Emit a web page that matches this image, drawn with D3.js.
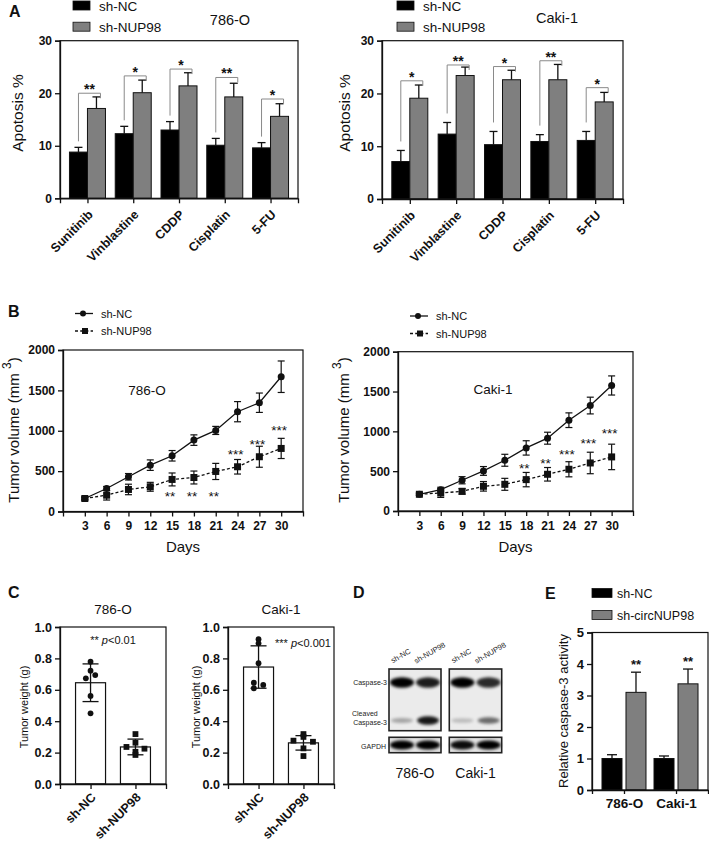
<!DOCTYPE html>
<html><head><meta charset="utf-8">
<script src="https://cdn.jsdelivr.net/npm/d3@7"></script>
<style>body{margin:0;background:#fff}</style>
</head><body><svg id="fig" width="709" height="841"></svg>
<script>
// ---------------- DATA ----------------
// Panel A: apoptosis %
const drugs = ["Sunitinib","Vinblastine","CDDP","Cisplatin","5-FU"];
const seriesNames = ["sh-NC","sh-NUP98"];
const apoTicks = [0,10,20,30];
const apo786NC   = [8.8,12.3,13.0,10.1,9.6];
const apo786NCsd = [0.9,1.4,1.6,1.3,1.0];
const apo786KD   = [17.1,20.1,21.4,19.3,15.6];
const apo786KDsd = [2.2,2.4,2.5,2.6,2.4];
const apo786Sig  = ["**","*","*","**","*"];
const apo786Bracket = [20.0,23.3,24.6,23.0,18.9];
const apoCakiNC   = [7.1,12.3,10.3,10.9,11.1];
const apoCakiNCsd = [2.1,2.2,2.5,1.3,1.7];
const apoCakiKD   = [19.1,23.4,22.6,22.6,18.4];
const apoCakiKDsd = [2.5,1.6,1.8,2.9,1.8];
const apoCakiSig  = ["*","**","*","**","*"];
const apoCakiBracket = [22.4,25.4,25.1,26.2,21.1];

// Panel B: tumor volume
const days = [3,6,9,12,15,18,21,24,27,30];
const volTicks = [0,500,1000,1500,2000];
const vol786NC   = [161,285,430,574,690,884,1004,1236,1347,1669];
const vol786NCsd = [18,25,40,65,65,65,50,125,120,195];
const vol786KD   = [161,202,273,306,397,421,496,554,678,781];
const vol786KDsd = [18,60,65,55,80,80,100,90,130,125];
const vol786Sig  = ["","","","","**","**","**","***","***","***"];
const vol786SigLevel = [0,0,0,0,235,235,235,752,876,1041];
const volCakiNC   = [210,268,386,503,637,792,914,1140,1324,1576];
const volCakiNCsd = [15,30,45,55,75,90,75,92,105,120];
const volCakiKD   = [210,226,247,310,335,394,461,524,603,679];
const volCakiKDsd = [15,55,35,60,75,90,85,95,135,160];
const volCakiSig  = ["","","","","","**","**","***","***","***"];
const volCakiSigLevel = [0,0,0,0,0,583,637,754,897,1014];

// Panel C: tumor weight
const wtTicks = [0,0.2,0.4,0.6,0.8,1.0];
const wt786NC = [0.779,0.722,0.694,0.673,0.561,0.450];
const wt786KD = [0.318,0.263,0.236,0.225,0.205,0.185];
const wt786Mean = [0.645,0.236];
const wt786SD = [0.12,0.05];
const wtCakiNC = [0.922,0.896,0.769,0.645,0.631,0.610];
const wtCakiKD = [0.318,0.300,0.276,0.269,0.227,0.178];
const wtCakiMean = [0.745,0.262];
const wtCakiSD = [0.135,0.046];

// Panel D: western blot band intensities (relative)
const blotLines = ["786-O","Caki-1"];
const blotLanes = ["sh-NC","sh-NUP98"];
const casp3Band   = [[1.0,0.88],[1.0,0.82]];
const cleavedBand = [[0.30,0.90],[0.20,0.55]];
const gapdhBand   = [[1.0,1.0],[0.95,1.0]];

// Panel E: caspase-3 activity
const casGroups = ["786-O","Caki-1"];
const casNames = ["sh-NC","sh-circNUP98"];
const casTicks = [0,1,2,3,4,5];
const casNC = [1.0,1.0];
const casNCsd = [0.12,0.08];
const casKD = [3.1,3.37];
const casKDsd = [0.64,0.47];
const casSig = ["**","**"];

// ---------------- LAYOUT / STYLE ----------------
const FF = "'Liberation Sans', Arial, Helvetica, sans-serif";
const INK = "#111";
const GRAY = "#7f7f7f";
const jit786NC = [0,0,4.7,-4.7,0,0];
const jit786KD = [0,0,-9,9,0,0];
const jitCakiNC = [0,0,0,-4.7,4.7,-4.7];
const jitCakiKD = [0,0,-10,9.5,0,0];

const svg = d3.select("#fig");
svg.append("rect").attr("width",709).attr("height",841).attr("fill","#fff");
const defs = svg.append("defs");
defs.append("filter").attr("id","blur").attr("x","-50%").attr("y","-80%").attr("width","200%").attr("height","260%")
  .append("feGaussianBlur").attr("stdDeviation",1.6);

function txt(x,y,s,fs,o={}){
  const t = svg.append("text").attr("x",x).attr("y",y).attr("font-family",FF)
    .attr("font-size",fs).attr("fill",o.fill||INK).text(s);
  if(o.bold) t.attr("font-weight","bold");
  if(o.anchor) t.attr("text-anchor",o.anchor);
  return t;
}
function vtxt(x,y,s,fs){
  return svg.append("text").attr("transform",`translate(${x},${y}) rotate(-90)`)
    .attr("text-anchor","middle").attr("font-family",FF).attr("font-size",fs).attr("fill",INK).text(s);
}
function styleAxis(g,fs){
  g.attr("font-family",FF).attr("font-size",fs).attr("font-weight","bold");
  g.selectAll("path.domain").attr("stroke",INK).attr("stroke-width",1.3);
  g.selectAll(".tick line").attr("stroke",INK).attr("stroke-width",1.3);
  g.selectAll(".tick text").attr("fill",INK);
}
function box(x0,y0,x1,y1){
  svg.append("rect").attr("x",x0).attr("y",y0).attr("width",x1-x0).attr("height",y1-y0)
    .attr("fill","none").attr("stroke",INK).attr("stroke-width",1.2);
}
function vline(g,x,y1,y2,w=1.3,c=INK){ g.append("line").attr("x1",x).attr("x2",x).attr("y1",y1).attr("y2",y2).attr("stroke",c).attr("stroke-width",w); }
function hline(g,x1,x2,y,w=1.3,c=INK){ g.append("line").attr("x1",x1).attr("x2",x2).attr("y1",y).attr("y2",y).attr("stroke",c).attr("stroke-width",w); }

// ---------------- PANEL LABELS ----------------
txt(9,17,"A",16,{bold:true});
txt(8,317,"B",16,{bold:true});
txt(8,598,"C",16,{bold:true});
txt(353,598,"D",16,{bold:true});
txt(545,599,"E",16,{bold:true});

// ---------------- PANEL A ----------------
function drawApo(c){
  const y = d3.scaleLinear().domain([0,30]).range([c.yBot,c.yTop]);
  const x = d3.scalePoint().domain(drugs).range([c.x0,c.x1]).padding(0.6);
  const bw = 18;
  const g = svg.append("g");
  box(c.x0,c.yTop,c.x1,c.yBot);
  drugs.forEach((d,i)=>{
    const cx = x(d);
    const items = [[cx-bw, c.nc[i], c.ncSd[i], "#000"],[cx, c.kd[i], c.kdSd[i], GRAY]];
    items.forEach(([bx,v,e,col])=>{
      const m = bx+bw/2;
      vline(g,m,y(v),y(v+e));
      hline(g,m-4,m+4,y(v+e));
      g.append("rect").attr("x",bx).attr("y",y(v)).attr("width",bw).attr("height",y(0)-y(v))
        .attr("fill",col).attr("stroke",INK).attr("stroke-width",1);
    });
    const lx = cx-bw/2, rx = cx+bw/2+4, by = y(c.br[i]);
    g.append("path").attr("d",`M${lx},${y(c.nc[i]+c.ncSd[i])-c.legGap}V${by}H${rx}V${by+5}`)
      .attr("fill","none").attr("stroke","#8a8a8a").attr("stroke-width",1);
    g.append("text").attr("x",(lx+rx)/2).attr("y",by+1).attr("text-anchor","middle")
      .attr("font-family",FF).attr("font-size",14).attr("font-weight","bold").attr("fill",INK).text(c.sig[i]);
  });
  const ya = svg.append("g").attr("transform",`translate(${c.x0},0)`)
    .call(d3.axisLeft(y).tickValues(apoTicks).tickSize(5).tickPadding(3).tickFormat(d3.format("d")));
  styleAxis(ya,12);
  const xa = svg.append("g").attr("transform",`translate(0,${c.yBot})`)
    .call(d3.axisBottom(x).tickSize(5).tickFormat(""));
  styleAxis(xa,12);
  drugs.forEach(d=>{
    svg.append("text").attr("transform",`translate(${x(d)+3},${c.yBot+14}) rotate(-45)`)
      .attr("text-anchor","end").attr("dy","0.35em").attr("font-family",FF).attr("font-size",12.5)
      .attr("font-weight","bold").attr("fill",INK).text(d);
  });
  vtxt(c.ylabX,113,"Apotosis %",15.5);
  // legend
  [["#000",c.legY[0]],[GRAY,c.legY[1]]].forEach(([col,ly],k)=>{
    svg.append("rect").attr("x",c.legX).attr("y",ly-4.5).attr("width",17).attr("height",9)
      .attr("fill",col).attr("stroke",INK).attr("stroke-width",0.8);
    txt(c.legX+26,ly+5,seriesNames[k],13.5);
  });
  txt(c.titleX,c.titleY,c.title,14.5,{anchor:"middle"});
}
drawApo({x0:60,x1:298,yTop:40.7,yBot:198.3,nc:apo786NC,ncSd:apo786NCsd,kd:apo786KD,kdSd:apo786KDsd,
  sig:apo786Sig,br:apo786Bracket,legGap:6,ylabX:23,legX:73,legY:[5.5,26.7],title:"786-O",titleX:230,titleY:25});
drawApo({x0:382,x1:623,yTop:40.7,yBot:199,nc:apoCakiNC,ncSd:apoCakiNCsd,kd:apoCakiKD,kdSd:apoCakiKDsd,
  sig:apoCakiSig,br:apoCakiBracket,legGap:9,ylabX:350,legX:397,legY:[5.5,26.7],title:"Caki-1",titleX:557,titleY:23});

// ---------------- PANEL B ----------------
function drawVol(c){
  const x = d3.scaleLinear().domain([0,33]).range([c.x0,c.x1]);
  const y = d3.scaleLinear().domain([0,2000]).range([c.yBot,c.yTop]);
  const g = svg.append("g");
  box(c.x0,c.yTop,c.x1,c.yBot);
  const line = d3.line().x((d,i)=>x(days[i])).y(d=>y(d));
  g.append("path").attr("d",line(c.kd)).attr("fill","none").attr("stroke",INK).attr("stroke-width",1.3).attr("stroke-dasharray","3,2.2");
  g.append("path").attr("d",line(c.nc)).attr("fill","none").attr("stroke",INK).attr("stroke-width",1.3);
  [[c.nc,c.ncSd],[c.kd,c.kdSd]].forEach(([v,e])=>{
    v.forEach((val,i)=>{
      const px = x(days[i]);
      vline(g,px,y(val-e[i]),y(val+e[i]),1.2);
      hline(g,px-3.5,px+3.5,y(val-e[i]),1.2);
      hline(g,px-3.5,px+3.5,y(val+e[i]),1.2);
    });
  });
  c.kd.forEach((val,i)=>g.append("rect").attr("x",x(days[i])-3.5).attr("y",y(val)-3.5).attr("width",7).attr("height",7).attr("fill",INK));
  c.nc.forEach((val,i)=>g.append("circle").attr("cx",x(days[i])).attr("cy",y(val)).attr("r",3.5).attr("fill",INK));
  c.sig.forEach((s,i)=>{ if(!s) return;
    g.append("text").attr("x",x(days[i])-2).attr("y",y(c.sigLv[i])+8).attr("text-anchor","middle")
      .attr("font-family",FF).attr("font-size",13.5).attr("fill",INK).text(s);
  });
  const ya = svg.append("g").attr("transform",`translate(${c.x0},0)`)
    .call(d3.axisLeft(y).tickValues(volTicks).tickSize(5).tickPadding(3).tickFormat(d3.format("d")));
  styleAxis(ya,12);
  const xa = svg.append("g").attr("transform",`translate(0,${c.yBot})`)
    .call(d3.axisBottom(x).tickValues(days).tickSize(5).tickPadding(5).tickFormat(d3.format("d")));
  styleAxis(xa,12);
  txt((x(3)+x(30))/2,552,"Days",15,{anchor:"middle"});
  // y label with superscript
  const yl = svg.append("text").attr("transform",`translate(${c.ylabX},430) rotate(-90)`)
    .attr("text-anchor","middle").attr("font-family",FF).attr("font-size",15).attr("fill",INK);
  yl.append("tspan").text("Tumor volume (mm ");
  yl.append("tspan").attr("dy",-8).attr("font-size",12).text("3");
  yl.append("tspan").attr("dy",8).text(")");
  txt(c.labX,c.labY,c.title,13.5,{anchor:"middle"});
  // legend
  const lg = svg.append("g");
  hline(lg,c.legX,c.legX+18,c.legY[0],1.3);
  lg.append("circle").attr("cx",c.legX+8).attr("cy",c.legY[0]).attr("r",3).attr("fill",INK);
  lg.append("line").attr("x1",c.legX).attr("x2",c.legX+18).attr("y1",c.legY[1]).attr("y2",c.legY[1])
    .attr("stroke",INK).attr("stroke-width",1.3).attr("stroke-dasharray","3,2.2");
  lg.append("rect").attr("x",c.legX+7).attr("y",c.legY[1]-3).attr("width",6).attr("height",6).attr("fill",INK);
  txt(c.legX+26,c.legY[0]+4,seriesNames[0],11);
  txt(c.legX+26,c.legY[1]+4,seriesNames[1],11);
}
drawVol({x0:63,x1:303,yTop:350,yBot:511.5,nc:vol786NC,ncSd:vol786NCsd,kd:vol786KD,kdSd:vol786KDsd,
  sig:vol786Sig,sigLv:vol786SigLevel,ylabX:19,title:"786-O",labX:147,labY:395,legX:75,legY:[313.5,331]});
drawVol({x0:398,x1:633,yTop:351.7,yBot:511,nc:volCakiNC,ncSd:volCakiNCsd,kd:volCakiKD,kdSd:volCakiKDsd,
  sig:volCakiSig,sigLv:volCakiSigLevel,ylabX:349,title:"Caki-1",labX:493,labY:394,legX:410,legY:[316,333.5]});

// ---------------- PANEL C ----------------
function drawWt(c){
  const y = d3.scaleLinear().domain([0,1]).range([784,627]);
  const x = d3.scalePoint().domain(seriesNames).range([c.x0,c.x1]).padding(0.68);
  const g = svg.append("g");
  box(c.x0,627,c.x1,784);
  const bw = 30;
  seriesNames.forEach((s,k)=>{
    const cx = x(s);
    g.append("rect").attr("x",cx-bw/2).attr("y",y(c.mean[k])).attr("width",bw).attr("height",y(0)-y(c.mean[k]))
      .attr("fill","#fff").attr("stroke",INK).attr("stroke-width",1.2);
  });
  c.nc.forEach((v,i)=>g.append("circle").attr("cx",x(seriesNames[0])+c.jn[i]).attr("cy",y(v)).attr("r",2.9).attr("fill",INK));
  c.kd.forEach((v,i)=>g.append("rect").attr("x",x(seriesNames[1])+c.jk[i]-2.9).attr("y",y(v)-2.9).attr("width",5.8).attr("height",5.8).attr("fill",INK));
  seriesNames.forEach((s,k)=>{
    const cx = x(s), m=c.mean[k], e=c.sd[k];
    vline(g,cx,y(m-e),y(m+e),1.3);
    hline(g,cx-8,cx+8,y(m-e),1.3);
    hline(g,cx-8,cx+8,y(m+e),1.3);
  });
  const ya = svg.append("g").attr("transform",`translate(${c.x0},0)`)
    .call(d3.axisLeft(y).tickValues(wtTicks).tickSize(5).tickPadding(3).tickFormat(d3.format(".1f")));
  styleAxis(ya,12.5);
  const xa = svg.append("g").attr("transform",`translate(0,784)`)
    .call(d3.axisBottom(x).tickSize(5).tickFormat(""));
  styleAxis(xa,12);
  seriesNames.forEach(s=>{
    svg.append("text").attr("transform",`translate(${x(s)+3},${795}) rotate(-45)`)
      .attr("text-anchor","end").attr("dy","0.35em").attr("font-family",FF).attr("font-size",12.5)
      .attr("font-weight","bold").attr("fill",INK).text(s);
  });
  vtxt(c.ylabX,707,"Tumor weight (g)",11);
  txt((c.x0+c.x1)/2,614,c.title,13.5,{anchor:"middle"});
  const pt = svg.append("text").attr("x",c.pX).attr("y",c.pY).attr("font-family",FF).attr("font-size",11)
    .attr("fill",INK).attr("text-anchor",c.pAnchor);
  pt.append("tspan").text(c.stars+" ");
  pt.append("tspan").attr("font-style","italic").text("p");
  pt.append("tspan").text(c.pTxt);
}
drawWt({x0:60,x1:166,nc:wt786NC,kd:wt786KD,mean:wt786Mean,sd:wt786SD,jn:jit786NC,jk:jit786KD,
  ylabX:28,title:"786-O",stars:"**",pTxt:"<0.01",pX:113,pY:644,pAnchor:"middle"});
drawWt({x0:228,x1:334,nc:wtCakiNC,kd:wtCakiKD,mean:wtCakiMean,sd:wtCakiSD,jn:jitCakiNC,jk:jitCakiKD,
  ylabX:200,title:"Caki-1",stars:"***",pTxt:"<0.001",pX:275,pY:647,pAnchor:"start"});

// ---------------- PANEL D (western blot) ----------------
(function(){
  const g = svg.append("g");
  const boxes = [[389,441],[449.3,501.7]];
  const laneX = d3.scalePoint().domain(blotLanes).range([0,1]).padding(0.5);
  blotLines.forEach((ln,li)=>{
    const [bx0,bx1] = boxes[li];
    const w = bx1-bx0;
    const lx = s => bx0 + laneX(s)*w;
    g.append("rect").attr("x",bx0).attr("y",669).attr("width",w).attr("height",61.7).attr("fill","#ebebeb");
    g.append("rect").attr("x",bx0).attr("y",737.3).attr("width",w).attr("height",15.4).attr("fill","#e2e2e2");
    blotLanes.forEach((s,k)=>{
      const cx = lx(s);
      g.append("ellipse").attr("cx",cx).attr("cy",682.5).attr("rx",12).attr("ry",5.2)
        .attr("fill","#000").attr("opacity",casp3Band[li][k]).attr("filter","url(#blur)");
      const ci = cleavedBand[li][k];
      g.append("ellipse").attr("cx",cx).attr("cy",720.5).attr("rx",11).attr("ry",1.8+2.6*ci)
        .attr("fill","#000").attr("opacity",ci).attr("filter","url(#blur)");
      g.append("ellipse").attr("cx",cx).attr("cy",745).attr("rx",12).attr("ry",4.6)
        .attr("fill","#000").attr("opacity",gapdhBand[li][k]).attr("filter","url(#blur)");
      svg.append("text").attr("transform",`translate(${cx+(k?3:0)},${k?655:658}) rotate(-30)`)
        .attr("text-anchor","middle").attr("font-family",FF).attr("font-size",7.5).attr("fill","#222").text(s);
    });
    g.append("rect").attr("x",bx0).attr("y",669).attr("width",w).attr("height",61.7).attr("fill","none").attr("stroke","#222").attr("stroke-width",1.6);
    g.append("rect").attr("x",bx0).attr("y",737.3).attr("width",w).attr("height",15.4).attr("fill","none").attr("stroke","#222").attr("stroke-width",1.6);
    txt((bx0+bx1)/2,778,ln,14,{anchor:"middle"});
  });
  txt(387,685,"Caspase-3",7,{anchor:"end",fill:"#222"});
  txt(352,716,"Cleaved",7,{fill:"#222"});
  txt(387,724.5,"Caspase-3",7,{anchor:"end",fill:"#222"});
  txt(386,749,"GAPDH",7,{anchor:"end",fill:"#222"});
})();

// ---------------- PANEL E ----------------
(function(){
  const y = d3.scaleLinear().domain([0,5]).range([790,632.5]);
  const x = d3.scalePoint().domain(casGroups).range([592,708]).padding(0.615);
  const g = svg.append("g");
  box(592,632.5,708,790);
  casGroups.forEach((grp,i)=>{
    const cx = x(grp);
    [[cx-22,casNC[i],casNCsd[i],"#000"],[cx+2,casKD[i],casKDsd[i],GRAY]].forEach(([bx,v,e,col])=>{
      const m = bx+10;
      vline(g,m,y(v),y(v+e),1.3);
      hline(g,m-5,m+5,y(v+e),1.3);
      g.append("rect").attr("x",bx).attr("y",y(v)).attr("width",20).attr("height",y(0)-y(v))
        .attr("fill",col).attr("stroke",INK).attr("stroke-width",1);
    });
    g.append("text").attr("x",cx+12).attr("y",y(casKD[i]+casKDsd[i])-3).attr("text-anchor","middle")
      .attr("font-family",FF).attr("font-size",13).attr("font-weight","bold").attr("fill",INK).text(casSig[i]);
  });
  const ya = svg.append("g").attr("transform","translate(592,0)")
    .call(d3.axisLeft(y).tickValues(casTicks).tickSize(5).tickPadding(3).tickFormat(d3.format("d")));
  styleAxis(ya,13);
  const xa = svg.append("g").attr("transform","translate(0,790)")
    .call(d3.axisBottom(x).tickSize(4).tickPadding(4));
  styleAxis(xa,13.5);
  vtxt(568,711,"Relative caspase-3 activity",13);
  [["#000",593],[GRAY,615]].forEach(([col,ly],k)=>{
    svg.append("rect").attr("x",592).attr("y",ly-4.5).attr("width",20).attr("height",9)
      .attr("fill",col).attr("stroke",INK).attr("stroke-width",0.8);
    txt(617,ly+5,casNames[k],12.5);
  });
})();
</script></body></html>
